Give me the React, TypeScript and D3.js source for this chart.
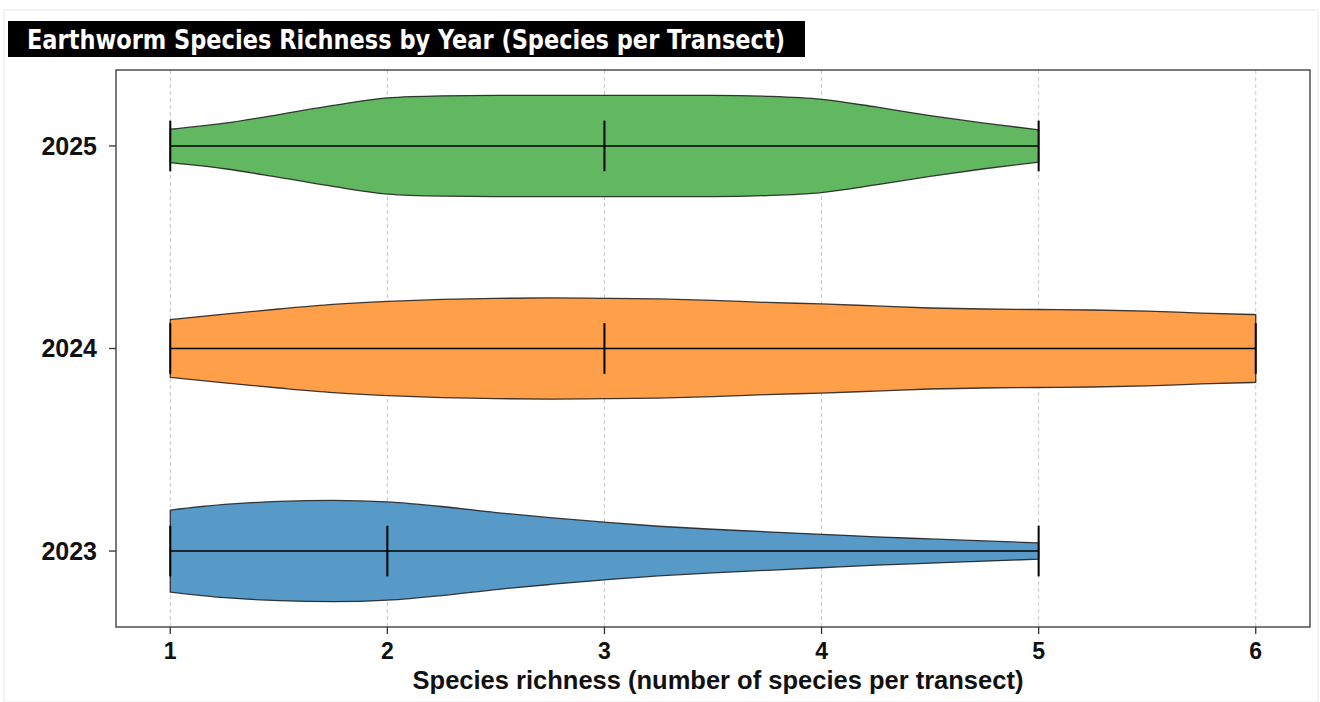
import React from "react";
import * as d3 from "d3";

// ---- data ----
const years = ["2023", "2024", "2025"];
const colors = ["#5799c7", "#ff9f4a", "#61b861"];
const mins = [1, 1, 1];
const maxs = [5, 6, 5];
const medians = [2, 3, 3];
const xTicks = [1, 2, 3, 4, 5, 6];

// kernel density profiles (relative width, 1 = widest) sampled along the x axis
const kdeX2023 = [1, 1.25, 1.5, 1.75, 2, 2.25, 2.5, 2.75, 3, 3.25, 3.5, 3.75, 4, 4.25, 4.5, 4.75, 5];
const kdeW2023 = [0.81, 0.92, 0.98, 1.0, 0.97, 0.88, 0.76, 0.66, 0.57, 0.49, 0.43, 0.38, 0.33, 0.28, 0.24, 0.2, 0.16];
const kdeX2024 = [1, 1.25, 1.5, 1.75, 2, 2.25, 2.5, 2.75, 3, 3.25, 3.5, 3.75, 4, 4.25, 4.5, 4.75, 5, 5.25, 5.5, 5.75, 6];
const kdeW2024 = [0.57, 0.68, 0.78, 0.87, 0.93, 0.97, 0.99, 1.0, 0.99, 0.98, 0.95, 0.91, 0.88, 0.84, 0.8, 0.78, 0.77, 0.76, 0.74, 0.7, 0.67];
const kdeX2025 = [1, 1.25, 1.5, 1.75, 2, 2.25, 2.5, 2.75, 3, 3.25, 3.5, 3.75, 4, 4.25, 4.5, 4.75, 5];
const kdeW2025 = [0.33, 0.45, 0.62, 0.8, 0.95, 0.99, 1.0, 1.0, 1.0, 1.0, 1.0, 0.98, 0.92, 0.77, 0.6, 0.45, 0.32];

const profilesX = [kdeX2023, kdeX2024, kdeX2025];
const profilesW = [kdeW2023, kdeW2024, kdeW2025];

const title = "Earthworm Species Richness by Year (Species per Transect)";
const xLabel = "Species richness (number of species per transect)";

export default function App() {
  const W = 1320, H = 702;
  const left = 116, right = 1310, top = 70, bottom = 627;
  const x = d3.scaleLinear().domain([0.75, 6.25]).range([left, right]);
  const y = d3.scaleLinear().domain([0.625, 3.375]).range([bottom, top]);
  const halfWidth = 0.25; // violin half-width in category units
  const pxPerUnit = Math.abs(y(1) - y(0));
  const capHalf = 0.125 * pxPerUnit;

  const font = "'Liberation Sans', Arial, 'DejaVu Sans', sans-serif";

  return (
    <svg width={W} height={H} style={{ position: "absolute", left: 0, top: 0, background: "#fff" }}
      xmlns="http://www.w3.org/2000/svg">
      <rect x={0} y={0} width={W} height={H} fill="#fff" />
      <rect x={4} y={10} width={W - 6} height={H - 10} fill="none" stroke="#e8e8e8" strokeWidth={1} />
      {/* title */}
      <rect x={8} y={21} width={797} height={36} fill="#000" />
      <text x={27} y={49} fill="#fff" fontFamily="'Liberation Sans Narrow', 'DejaVu Sans Condensed', Arial, sans-serif"
        fontWeight="bold" fontSize={26} textLength={758} lengthAdjust="spacingAndGlyphs">{title}</text>

      {/* grid */}
      {xTicks.map(t => (
        <line key={"g" + t} x1={x(t)} x2={x(t)} y1={top} y2={bottom} stroke="#c8c8c8" strokeWidth={1} strokeDasharray="4,3" />
      ))}

      {/* violins */}
      {years.map((yr, i) => {
        const yc = y(i + 1);
        const pts = profilesX[i].map((v, k) => [v, profilesW[i][k]] as [number, number]);
        const area = d3.area<[number, number]>()
          .x(d => x(d[0]))
          .y0(d => yc - d[1] * halfWidth * pxPerUnit)
          .y1(d => yc + d[1] * halfWidth * pxPerUnit)
          .curve(d3.curveMonotoneX);
        return (
          <g key={yr}>
            <path d={area(pts) || ""} fill={colors[i]} stroke="#1a1a1a" strokeWidth={1.3} strokeOpacity={0.85} />
            <line x1={x(mins[i])} x2={x(maxs[i])} y1={yc} y2={yc} stroke="#000" strokeWidth={1.6} />
            <line x1={x(mins[i])} x2={x(mins[i])} y1={yc - capHalf} y2={yc + capHalf} stroke="#000" strokeWidth={2} />
            <line x1={x(maxs[i])} x2={x(maxs[i])} y1={yc - capHalf} y2={yc + capHalf} stroke="#000" strokeWidth={2} />
            <line x1={x(medians[i])} x2={x(medians[i])} y1={yc - capHalf} y2={yc + capHalf} stroke="#000" strokeWidth={2} />
          </g>
        );
      })}

      {/* frame */}
      <rect x={left} y={top} width={right - left} height={bottom - top} fill="none" stroke="#333" strokeWidth={1.3} />

      {/* x ticks */}
      {xTicks.map(t => (
        <g key={"xt" + t}>
          <line x1={x(t)} x2={x(t)} y1={bottom} y2={bottom + 7} stroke="#333" strokeWidth={1.3} />
          <text x={x(t)} y={659} textAnchor="middle" fontFamily={font} fontWeight="bold" fontSize={23} fill="#111">{t}</text>
        </g>
      ))}
      {/* y ticks */}
      {years.map((yr, i) => (
        <g key={"yt" + yr}>
          <line x1={left - 7} x2={left} y1={y(i + 1)} y2={y(i + 1)} stroke="#333" strokeWidth={1.3} />
          <text x={97} y={y(i + 1)} dy="0.35em" textAnchor="end" fontFamily={font} fontWeight="bold" fontSize={25} fill="#111">{yr}</text>
        </g>
      ))}
      <text x={718} y={689} textAnchor="middle" fontFamily={font} fontWeight="bold" fontSize={25.5} fill="#111">{xLabel}</text>
    </svg>
  );
}
